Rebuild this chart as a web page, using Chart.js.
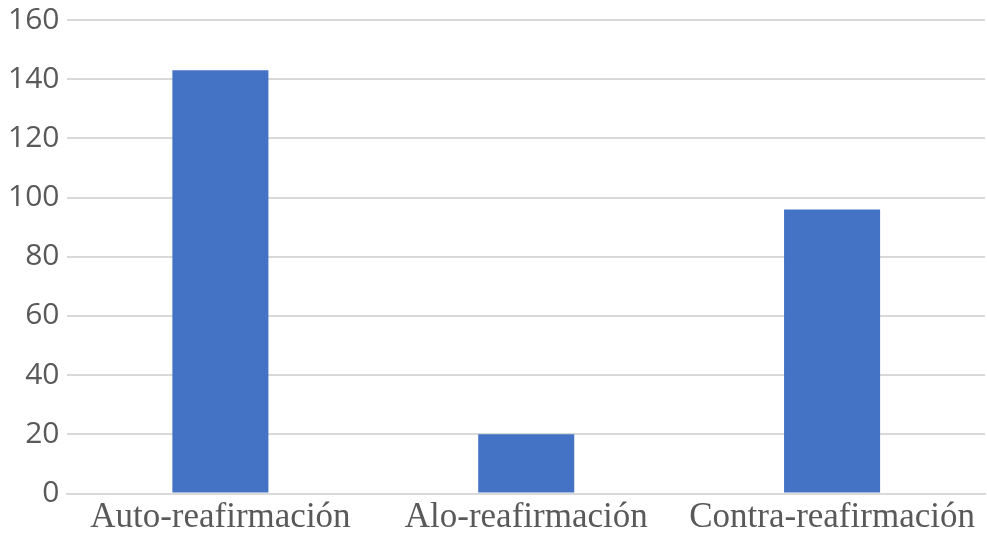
<!DOCTYPE html>
<html>
<head>
<meta charset="utf-8">
<script src="https://cdn.jsdelivr.net/npm/chart.js@4"></script>
<style>
  html, body { margin: 0; padding: 0; background: #fff; }
  #wrap { width: 987px; height: 542px; }
</style>
</head>
<body>
<div id="wrap"><canvas id="myChart"></canvas></div>
<script>
// datos del grafico
const categorias = ['Auto-reafirmación', 'Alo-reafirmación', 'Contra-reafirmación'];
const valores = [143, 20, 96];
const ejeY = { min: 0, max: 160, paso: 20 };

const ctx = document.getElementById('myChart').getContext('2d');
const myChart = new Chart(ctx, {
    type: 'bar',
    data: {
        labels: categorias,
        datasets: [{
            data: valores,
            backgroundColor: '#4472C4',
            categoryPercentage: 1,
            barPercentage: 0.314
        }]
    },
    options: {
        responsive: true,
        maintainAspectRatio: false,
        animation: false,
        layout: { padding: { top: 0, right: 2, left: 0, bottom: 0 } },
        plugins: {
            legend: { display: false },
            tooltip: { enabled: false }
        },
        scales: {
            x: {
                grid: { display: false, drawTicks: false },
                border: { color: '#d9d9d9', width: 2 },
                ticks: {
                    color: '#595959',
                    padding: 5,
                    maxRotation: 0,
                    font: { family: '"Liberation Serif", serif', size: 35, lineHeight: 1.1 }
                }
            },
            y: {
                min: ejeY.min,
                max: ejeY.max,
                grid: { color: '#d9d9d9', lineWidth: 2, drawTicks: false },
                border: { display: false },
                ticks: {
                    stepSize: ejeY.paso,
                    color: '#595959',
                    padding: 8,
                    font: { family: '"Open Sans", sans-serif', size: 30, lineHeight: 0.8 }
                }
            }
        }
    }
});
</script>
</body>
</html>
